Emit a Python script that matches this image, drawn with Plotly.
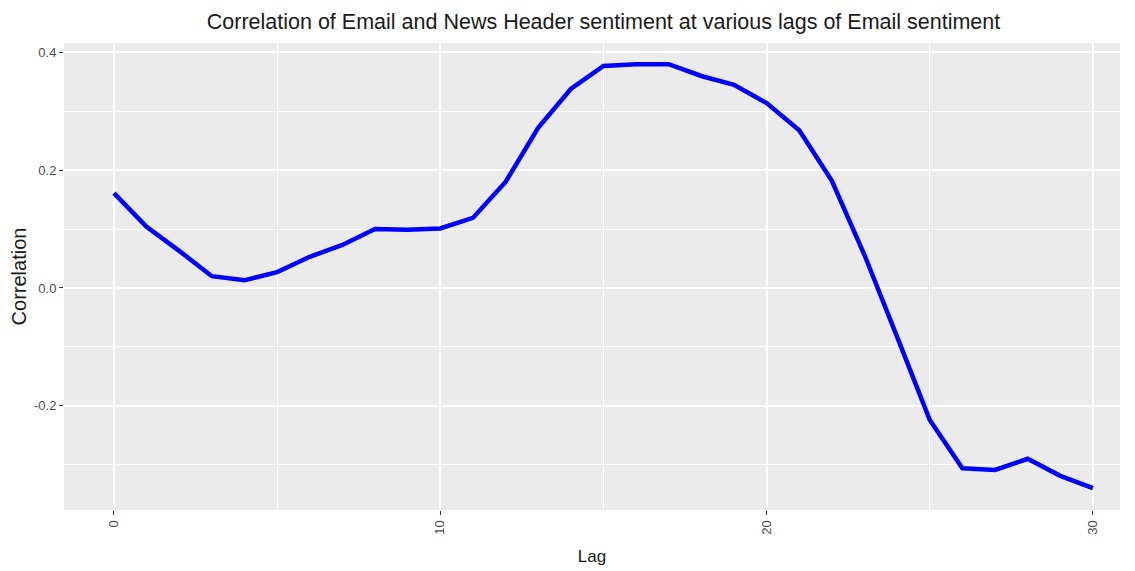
import plotly.graph_objects as go

lags = list(range(31))
correlation = [0.161, 0.104, 0.063, 0.020, 0.013, 0.027, 0.053, 0.073, 0.100, 0.099,
               0.101, 0.119, 0.180, 0.272, 0.338, 0.377, 0.380, 0.380, 0.360, 0.345,
               0.314, 0.268, 0.182, 0.056, -0.083, -0.224, -0.306, -0.309, -0.290, -0.319,
               -0.340]
x_ticks = [0, 10, 20, 30]
y_ticks = [-0.2, 0.0, 0.2, 0.4]
y_tick_labels = ["-0.2", "0.0", "0.2", "0.4"]

title_text = "Correlation of Email and News Header sentiment at various lags of Email sentiment"

fig = go.Figure()
fig.add_trace(go.Scatter(x=lags, y=correlation, mode="lines",
                         line=dict(color="#0000ff", width=4.5), showlegend=False,
                         hoverinfo="x+y"))

fig.update_layout(
    width=1135, height=571,
    margin=dict(l=56, r=23, t=35, b=69),
    paper_bgcolor="white",
    plot_bgcolor="#ebebeb",
    font=dict(family="Liberation Sans, Arial, sans-serif", color="#4d4d4d"),
    title=dict(text=title_text, x=0.5247, xanchor="center", y=0.977, yanchor="middle",
               font=dict(family="Liberation Sans, Arial, sans-serif", size=21.5, color="#1a1a1a")),
    xaxis=dict(range=[-1.53, 30.83], tickvals=x_ticks, ticktext=[str(v) for v in x_ticks],
               tickangle=-90, ticks="outside", ticklen=4, tickcolor="#333333", tickwidth=1.2,
               tickfont=dict(size=13, color="#4d4d4d"),
               showgrid=True, gridcolor="white", gridwidth=1.6,
               minor=dict(tickvals=[5, 15, 25], showgrid=True, gridcolor="white", gridwidth=0.8),
               zeroline=False, showline=False, automargin=False,
               title=dict(text="Lag", font=dict(size=17, color="#1a1a1a"), standoff=16)),
    yaxis=dict(range=[-0.377, 0.416], tickvals=y_ticks, ticktext=y_tick_labels,
               ticks="outside", ticklen=4, tickcolor="#333333", tickwidth=1.2,
               tickfont=dict(size=13, color="#4d4d4d"),
               showgrid=True, gridcolor="white", gridwidth=1.6,
               minor=dict(tickvals=[-0.3, -0.1, 0.1, 0.3], showgrid=True, gridcolor="white", gridwidth=0.8),
               zeroline=False, showline=False, automargin=False,
               title=dict(text="Correlation", font=dict(size=20, color="#1a1a1a"), standoff=3)),
)

fig.write_html("out.html")
